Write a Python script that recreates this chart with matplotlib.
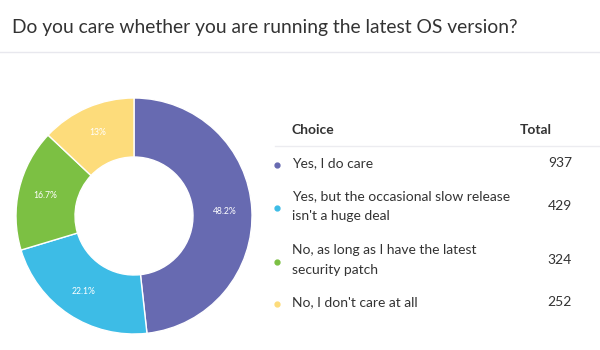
import matplotlib.pyplot as plt
from matplotlib.lines import Line2D

title = "Do you care whether you are running the latest OS version?"
choices = [
    "Yes, I do care",
    "Yes, but the occasional slow release\nisn't a huge deal",
    "No, as long as I have the latest\nsecurity patch",
    "No, I don't care at all",
]
totals = [937, 429, 324, 252]
colors = ["#676ab1", "#3dbce6", "#7cc043", "#fddc7b"]

W, H = 600, 350
plt.rcParams["font.family"] = ["Lato", "DejaVu Sans"]


def px(x, y):
    return x / W, 1 - y / H


def fmt_pct(p):
    s = f"{p:.1f}"
    if s.endswith(".0"):
        s = s[:-2]
    return s + "%"


fig = plt.figure(figsize=(6, 3.5), dpi=100)
fig.patch.set_facecolor("white")

# title and divider
fig.text(*px(12, 27), title, fontsize=13.9, color="#333333", va="center", ha="left")
fig.add_artist(Line2D([0, 1], [1 - 52 / H] * 2, color="#e8e8ee", lw=1))

# donut
cx, cy, r = 134, 216, 118
ax = fig.add_axes([(cx - r) / W, 1 - (cy + r) / H, 2 * r / W, 2 * r / H])
wedges, texts, autotexts = ax.pie(
    totals, colors=colors, startangle=90, counterclock=False,
    autopct=fmt_pct, pctdistance=0.77,
    wedgeprops=dict(width=0.5, edgecolor="white", linewidth=1),
    textprops=dict(color="white", fontsize=6.2),
)
ax.set_xlim(-1, 1)
ax.set_ylim(-1, 1)
ax.set_aspect("equal")

# table
fig.text(*px(292, 130), "Choice", fontsize=10, fontweight="bold", color="#333333", va="center")
fig.text(*px(552, 130), "Total", fontsize=10, fontweight="bold", color="#333333", va="center", ha="right")
fig.add_artist(Line2D([275 / W, 1], [1 - 146 / H] * 2, color="#ececf0", lw=1))

row_y = [163, 206, 260, 302]
for label, total, col, y in zip(choices, totals, colors, row_y):
    fig.text(*px(292, y), label, fontsize=10, color="#333333", va="center",
             linespacing=1.75)
    fig.text(*px(572, y), str(total), fontsize=10, color="#333333", va="center", ha="right")
    fig.add_artist(Line2D([277 / W], [1 - (y + 2) / H], marker="o", markersize=3.5,
                          color=col, lw=0))

fig.savefig("out.png", dpi=100)
